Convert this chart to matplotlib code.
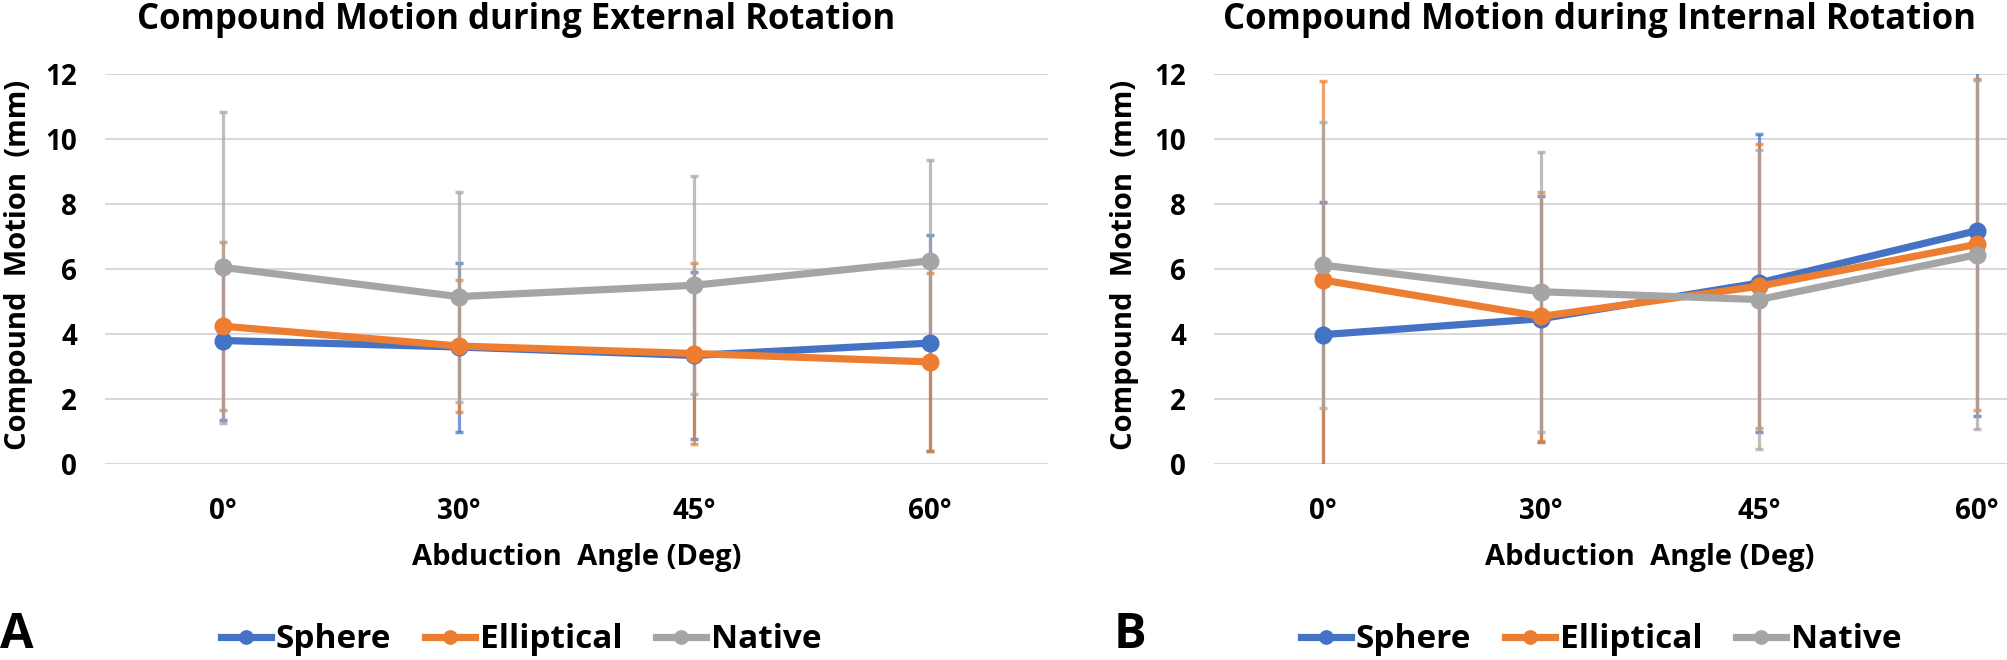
import numpy as np
import matplotlib.pyplot as plt

plt.rcParams['font.family'] = ['Open Sans', 'DejaVu Sans']
plt.rcParams['font.weight'] = 'bold'
plt.rcParams['axes.labelweight'] = 'bold'

#%% data
angles = ['0°', '30°', '45°', '60°']
series = ['Sphere', 'Elliptical', 'Native']
colors = ['#4472C4', '#ED7D31', '#A5A5A5']

# External rotation (panel A): means and SD
ext_sphere = [3.80, 3.60, 3.34, 3.72]
ext_ellip = [4.24, 3.63, 3.40, 3.14]
ext_native = [6.05, 5.15, 5.50, 6.25]
ext_sphere_sd = [2.45, 2.60, 2.58, 3.33]
ext_ellip_sd = [2.59, 2.03, 2.78, 2.75]
ext_native_sd = [4.79, 3.23, 3.36, 3.10]

# Internal rotation (panel B): means and SD
int_sphere = [3.98, 4.47, 5.57, 7.18]
int_ellip = [5.66, 4.54, 5.47, 6.76]
int_native = [6.12, 5.30, 5.06, 6.44]
int_sphere_sd = [4.08, 3.78, 4.58, 5.69]
int_ellip_sd = [6.12, 3.84, 4.37, 5.10]
int_native_sd = [4.39, 4.31, 4.61, 5.37]

titles = ['Compound Motion during External Rotation',
          'Compound Motion during Internal Rotation']
panel_tags = ['A', 'B']

#%%
W, H = 2008, 660
fig = plt.figure(figsize=(W / 100, H / 100), dpi=100)

def px(x0, y0, x1, y1):
    return [x0 / W, 1 - y1 / H, (x1 - x0) / W, (y1 - y0) / H]

axA = fig.add_axes(px(105, 74, 1048, 464))
axB = fig.add_axes(px(1214, 74, 2086, 464))   # runs past the right edge, as in the reference

panels = [
    (axA, [ext_sphere, ext_ellip, ext_native], [ext_sphere_sd, ext_ellip_sd, ext_native_sd]),
    (axB, [int_sphere, int_ellip, int_native], [int_sphere_sd, int_ellip_sd, int_native_sd]),
]
ylab_x = [-0.092, -0.103]
leg_x = [521, 1601]
title_x = [516, 1600]
tag_x = [0, 1114]

x = np.arange(len(angles))
for i, (ax, means, sds) in enumerate(panels):
    for m, s, c in zip(means, sds, colors):
        ax.errorbar(x, m, yerr=s, fmt='none', ecolor=c, elinewidth=2.3,
                    capsize=3, capthick=2.5, alpha=0.72, zorder=2)
    for m, c, name in zip(means, colors, series):
        ax.plot(x, m, '-o', color=c, lw=5.2, ms=12, label=name, zorder=3)

    ax.set_xlim(-0.5, len(angles) - 0.5)
    ax.set_ylim(0, 12)
    ax.set_yticks(np.arange(0, 13, 2))
    ax.set_xticks(x)
    ax.set_xticklabels(angles)
    ax.grid(axis='y', color='#D9D9D9', lw=1.5)
    ax.set_axisbelow(True)
    for sp in ax.spines.values():
        sp.set_visible(False)
    ax.tick_params(length=0, labelsize=20)
    ax.tick_params(axis='y', pad=20)
    ax.tick_params(axis='x', pad=24)

    ax.set_xlabel('Abduction  Angle (Deg)', fontsize=21, va='center')
    ax.xaxis.set_label_coords(0.5, -0.241)
    ax.set_ylabel('Compound  Motion  (mm)', fontsize=21, va='center')
    ax.yaxis.set_label_coords(ylab_x[i], 0.51)

    h, l = ax.get_legend_handles_labels()
    fig.legend(h, l, loc='center', bbox_to_anchor=(leg_x[i] / W, 1 - 640 / H),
               ncol=3, frameon=False, fontsize=24, handlelength=1.5,
               handletextpad=0.15, columnspacing=1.0, markerscale=0.8,
               borderpad=0, borderaxespad=0)

    fig.text(title_x[i] / W, 1 - 20 / H, titles[i], ha='center', va='center',
             fontsize=25, fontweight='bold')
    fig.text(tag_x[i] / W, 1 - 636 / H, panel_tags[i], ha='left', va='center',
             fontsize=35, fontweight='bold')

fig.savefig('out.png', dpi=100)
